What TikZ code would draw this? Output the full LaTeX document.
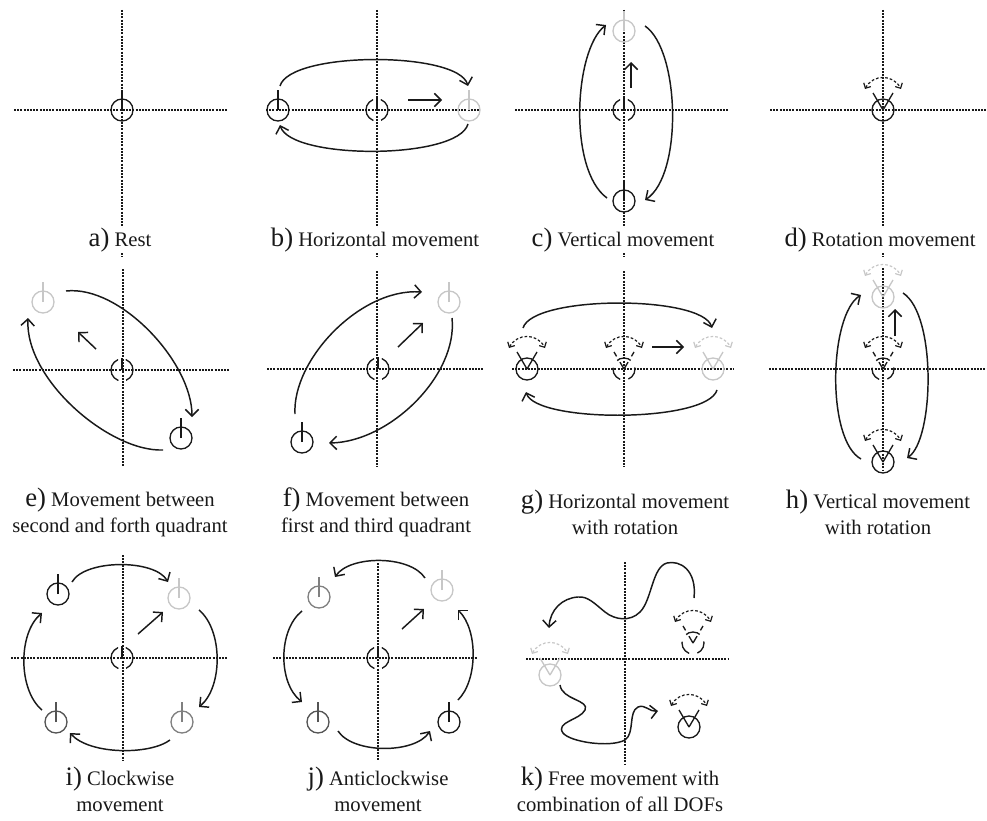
\documentclass[tikz,border=0pt]{standalone}
\usepackage{fontspec}
\setmainfont{Liberation Serif}
\usetikzlibrary{arrows.meta,calc}

\definecolor{inkK}{gray}{0.1}
\definecolor{inkD}{gray}{0.33}
\definecolor{inkM}{gray}{0.5}
\definecolor{inkL}{gray}{0.78}
\newcommand{\lbl}[1]{{\fontsize{20}{20}\selectfont #1}}

\begin{document}
\begin{tikzpicture}[x=0.75pt, y=-0.75pt,
  axisL/.style={line width=0.9pt, dash pattern=on 1.5pt off 0.9pt, inkK},
  puck/.style={draw, circle, minimum size=16.5pt, inner sep=0pt, line width=1pt},
  ghost/.style={puck, draw=inkK, dash pattern=on 20.1pt off 5.8pt, dash phase=10.05pt},
  ghostR/.style={puck, draw=inkK, dash pattern=on 11pt off 6.27pt, dash phase=9.8pt},
  stem/.style={line width=1pt},
  vdash/.style={line width=1pt, dash pattern=on 6pt off 5pt},
  dirA/.style={line width=1.1pt, inkK, -{Straight Barb[length=5pt,width=10pt]}},
  loopA/.style={line width=1.1pt, inkK, -{Straight Barb[length=5pt,width=10pt]}},
  rotA/.style={line width=0.9pt, dash pattern=on 2pt off 1.5pt,
               {Straight Barb[length=3pt,width=6pt]}-{Straight Barb[length=3pt,width=6pt]}},
  capN/.style={align=center, inner sep=0pt, fill=white, text=inkK,
               font=\fontsize{15.5}{19.5}\selectfont}
]
\useasboundingbox (0,0) rectangle (987,820);

% axes
\foreach \cx/\cy/\xl/\xr/\yt/\yb in {122/110/14/228/10/257, 377/110/266/480/10/257,
    624/110/515/728/10/257, 883/110/770/987/10/257, 123/370/13/230/269/467,
    377/369/267/483/271/467, 624/369/512/733/271/467, 883/369/769/987/268/470,
    123/658/11/228/555/760, 378/658/273/477/563/760, 625/659/526/728/562/765}
  \draw[axisL] (\xl,\cy) -- (\xr,\cy) (\cx,\yt) -- (\cx,\yb);

% a) rest
\node[puck, draw=inkK] (a1) at (122,110) {};
% b) horizontal
\node[puck, draw=inkK] (b1) at (278,110) {};
\node[ghost] (b0) at (377,110) {};
\node[puck, draw=inkL] (b2) at (469,110) {};
% c) vertical
\node[puck, draw=inkK] (c1) at (624,201) {};
\node[ghost] (c0) at (624,110) {};
\node[puck, draw=inkL] (c2) at (624,31) {};
% d) rotation
\node[puck, draw=inkK] (d1) at (883,110) {};
% e) second / forth quadrant
\node[puck, draw=inkK] (e1) at (181,438) {};
\node[ghost] (e0) at (122,370) {};
\node[puck, draw=inkL] (e2) at (43,302) {};
% f) first / third quadrant
\node[puck, draw=inkK] (f1) at (302,442) {};
\node[ghost] (f0) at (378,369) {};
\node[puck, draw=inkL] (f2) at (449,302) {};
% g) horizontal with rotation
\node[puck, draw=inkK] (g1) at (527,369) {};
\node[ghostR] (g0) at (624,369) {};
\node[puck, draw=inkL] (g2) at (713,369) {};
% h) vertical with rotation
\node[puck, draw=inkK] (h1) at (883,462) {};
\node[ghostR] (h0) at (883,369) {};
\node[puck, draw=inkL] (h2) at (883,297) {};
% i) clockwise
\node[puck, draw=inkK] (i1) at (58,594) {};
\node[puck, draw=inkL] (i2) at (179,598) {};
\node[puck, draw=inkM] (i3) at (182,722) {};
\node[puck, draw=inkD] (i4) at (56,722) {};
\node[ghost] (i0) at (122,658) {};
% j) anticlockwise
\node[puck, draw=inkM] (j1) at (319,597) {};
\node[puck, draw=inkL] (j2) at (442,590) {};
\node[puck, draw=inkD] (j3) at (318,722) {};
\node[puck, draw=inkK] (j4) at (449,722) {};
\node[ghost] (j0) at (378,658) {};
% k) free movement
\node[ghostR] (k1) at (693,643) {};
\node[puck, draw=inkL] (k2) at (550,675) {};
\node[puck, draw=inkK] (k3) at (689,727) {};

% stems
\foreach \n/\c in {a1/inkK, b1/inkK, b2/inkL, c1/inkK, c2/inkL, e1/inkK, e2/inkL,
    f1/inkK, f2/inkL, i1/inkK, i2/inkL, i3/inkM, i4/inkD, j1/inkM, j2/inkL, j3/inkD, j4/inkK}
  \draw[stem, \c] (\n.center) -- ++(0,-20);
\foreach \n in {b0, c0, e0, f0, i0, j0}
  \draw[stem, inkK] (\n.center) -- (\n.north);

% pointers and rotation marks
\foreach \n/\c in {d1/inkK, g1/inkK, g2/inkL, h1/inkK, h2/inkL, k2/inkL, k3/inkK} {
  \draw[stem, \c] (\n.center) -- ++(-10,-17) (\n.center) -- ++(10,-17);
  \draw[rotA, \c] ($(\n)+(-18,-21)$) .. controls +(8,-15) and +(-8,-15) .. ($(\n)+(18,-21)$);
}
\foreach \n in {g0, h0, k1} {
  \draw[vdash, inkK] (\n.center) -- ++(-10,-17) (\n.center) -- ++(10,-17);
  \draw[rotA, inkK] ($(\n)+(-18,-21)$) .. controls +(8,-15) and +(-8,-15) .. ($(\n)+(18,-21)$);
}

% direction arrows
\draw[dirA] ($(b0)+(31,-10)$) -- ($(b0)+(65,-10)$);
\draw[dirA] ($(c0)+(7,-22)$) -- ($(c0)+(7,-48)$);
\draw[dirA] ($(e0)+(-26,-21)$) -- ($(e0)+(-44,-38)$);
\draw[dirA] ($(f0)+(20,-22)$) -- ($(f0)+(45,-46)$);
\draw[dirA] ($(g0)+(28,-22)$) -- ($(g0)+(60,-22)$);
\draw[dirA] ($(h0)+(12,-33)$) -- ($(h0)+(12,-60)$);
\draw[dirA] ($(i0)+(16,-24)$) -- ($(i0)+(41,-46)$);
\draw[dirA] ($(j0)+(24,-29)$) -- ($(j0)+(46,-49)$);

% loops
\draw[loopA] ($(b1)+(2,-24)$) .. controls (290,51) and (458,51) .. ($(b2)+(-1,-24)$);
\draw[loopA] ($(b2)+(-1,14)$) .. controls (458,160) and (291,160) .. ($(b1)+(2,15)$);
\draw[loopA] ($(c1)+(-17,-3)$) .. controls (568,170) and (574,50) .. ($(c2)+(-18,-6)$);
\draw[loopA] ($(c2)+(21,-5)$) .. controls (680,50) and (683,175) .. ($(c1)+(21,-1)$);
\draw[loopA] ($(e2)+(23,-11)$) .. controls (120,285) and (192,362) .. ($(e1)+(11,-21)$);
\draw[loopA] ($(e1)+(-18,12)$) .. controls (110,452) and (25,380) .. ($(e2)+(-15,16)$);
\draw[loopA] ($(f1)+(-7,-28)$) .. controls (292,360) and (360,288) .. ($(f2)+(-27,-10)$);
\draw[loopA] ($(f2)+(3,16)$) .. controls (458,375) and (390,442) .. ($(f1)+(27,1)$);
\draw[loopA] ($(g1)+(-4,-41)$) .. controls (533,295) and (702,295) .. ($(g2)+(-1,-41)$);
\draw[loopA] ($(g2)+(4,21)$) .. controls (707,423) and (536,423) .. ($(g1)+(-1,23)$);
\draw[loopA] ($(h1)+(-22,-3)$) .. controls (826,440) and (829,315) .. ($(h2)+(-22,-2)$);
\draw[loopA] ($(h2)+(20,-4)$) .. controls (937,315) and (934,440) .. ($(h1)+(24,-4)$);
\draw[loopA] ($(i1)+(14,-12)$) .. controls (85,559) and (155,559) .. ($(i2)+(-11,-16)$);
\draw[loopA] ($(i2)+(20,12)$) .. controls (223,630) and (223,687) .. ($(i3)+(17,-15)$);
\draw[loopA] ($(i3)+(-12,18)$) .. controls (150,755) and (90,755) .. ($(i4)+(14,11)$);
\draw[loopA] ($(i4)+(-14,-12)$) .. controls (18,690) and (18,633) .. ($(i1)+(-16,19)$);
\draw[loopA] ($(j2)+(-17,-12)$) .. controls (410,555) and (350,555) .. ($(j1)+(16,-20)$);
\draw[loopA] ($(j1)+(-17,14)$) .. controls (278,630) and (278,683) .. ($(j3)+(-16,-20)$);
\draw[loopA] ($(j3)+(20,9)$) .. controls (353,754) and (415,754) .. ($(j4)+(-19,9)$);
\draw[loopA] ($(j4)+(9,-22)$) .. controls (478,680) and (478,630) .. ($(j2)+(16,20)$);
\draw[loopA] ($(k1)+(1,-45)$) .. controls (697,570) and (680,560) .. (667,563)
  .. controls (652,567) and (652,600) .. (640,612) .. controls (630,622) and (615,620) .. (605,612)
  .. controls (595,604) and (588,596) .. (578,597) .. controls (562,598) and (550,610) .. ($(k2)+(-1,-47)$);
\draw[loopA] ($(k2)+(10,10)$) .. controls (562,700) and (590,700) .. (585,710)
  .. controls (580,720) and (555,722) .. (563,733) .. controls (570,742) and (610,748) .. (625,740)
  .. controls (635,733) and (628,712) .. (638,707) .. controls (645,704) and (650,712) .. ($(k3)+(-31,-16)$);

% captions
\node[capN] (la) at (120,240) {\lbl{a)} Rest};
\node[capN] (lb) at (375,240) {\lbl{b)} Horizontal movement};
\node[capN] (lc) at (623,240) {\lbl{c)} Vertical movement};
\node[capN] (ld) at (880,240) {\lbl{d)} Rotation movement};
\node[capN] (le) at (120,512) {\lbl{e)} Movement between\\second and forth quadrant};
\node[capN] (lf) at (376,512) {\lbl{f)} Movement between\\first and third quadrant};
\node[capN] (lg) at (625,512) {\lbl{g)} Horizontal movement\\with rotation};
\node[capN] (lh) at (878,512) {\lbl{h)} Vertical movement\\with rotation};
\node[capN] (li) at (120,789) {\lbl{i)} Clockwise\\movement};
\node[capN] (lj) at (378,789) {\lbl{j)} Anticlockwise\\movement};
\node[capN] (lk) at (620,789) {\lbl{k)} Free movement with\\combination of all DOFs};
\end{tikzpicture}
\end{document}
